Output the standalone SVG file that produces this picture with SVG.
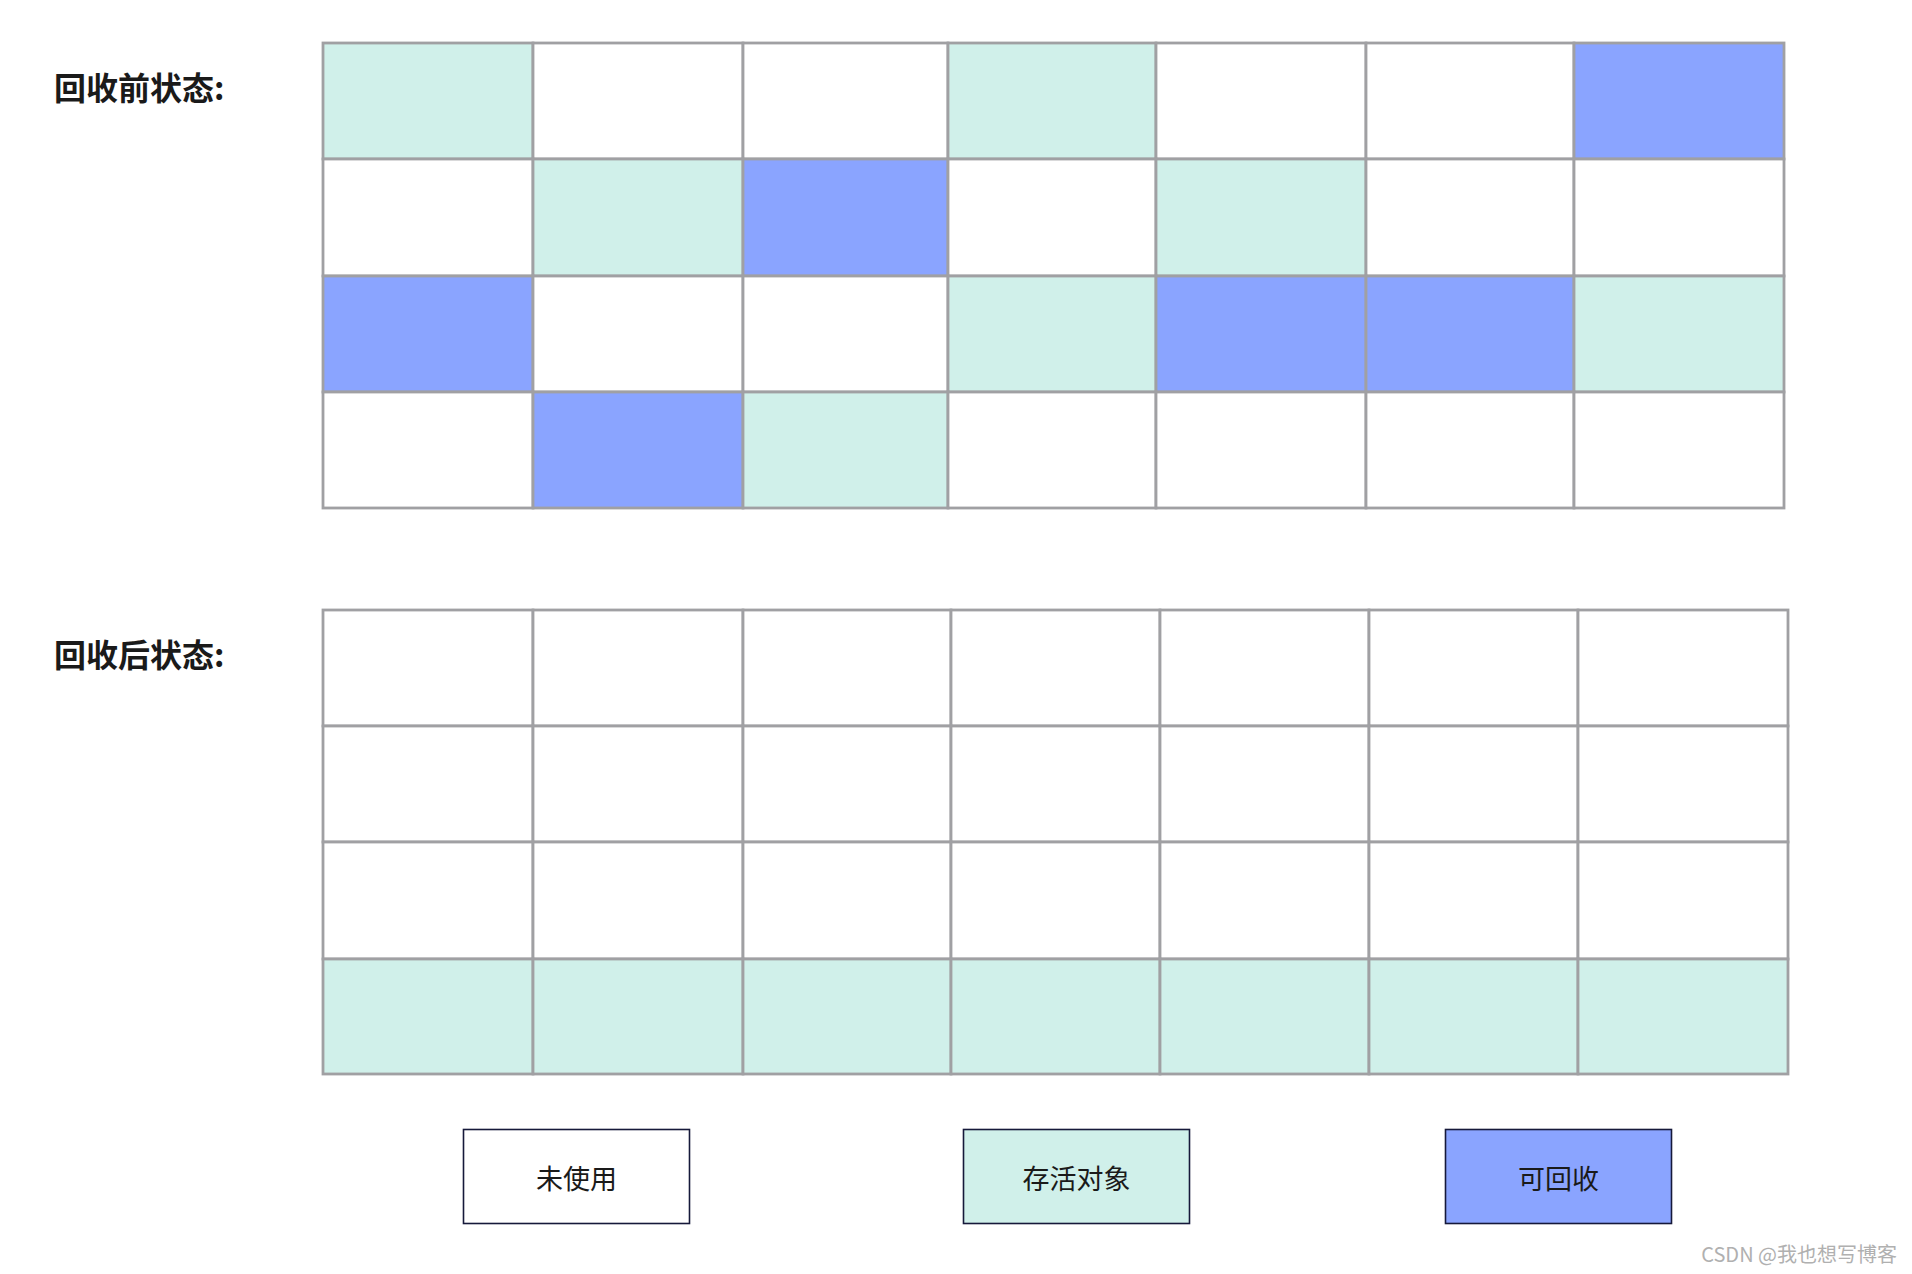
<svg xmlns="http://www.w3.org/2000/svg" width="1912" height="1274" viewBox="0 0 1912 1274">
<style>
.c{stroke:#a0a0a3;stroke-width:2.8}
.w{fill:#ffffff}
.t{fill:#d0f0ea}
.b{fill:#8aa4ff}
.title{font-family:"Noto Sans CJK SC","Noto Sans",sans-serif;font-weight:bold;font-size:32px;fill:#1a1a1a}
.lg{stroke:#16193a;stroke-width:1.6}
.lt{font-family:"Noto Sans CJK SC","Noto Sans",sans-serif;font-size:27px;fill:#1a1a1a;text-anchor:middle}
.wm{font-family:"Noto Sans CJK SC","Liberation Sans",sans-serif;font-size:20px;fill:#b0b0b0;text-anchor:end}
</style>
<rect width="1912" height="1274" fill="#ffffff"/>
<text class="title" x="54" y="100">回收前状态:</text>
<text class="title" x="54" y="667">回收后状态:</text>
<g id="before">
<rect class="c t" x="323" y="43" width="210" height="116"/>
<rect class="c w" x="533" y="43" width="210" height="116"/>
<rect class="c w" x="743" y="43" width="205" height="116"/>
<rect class="c t" x="948" y="43" width="208" height="116"/>
<rect class="c w" x="1156" y="43" width="210" height="116"/>
<rect class="c w" x="1366" y="43" width="208" height="116"/>
<rect class="c b" x="1574" y="43" width="210" height="116"/>
<rect class="c w" x="323" y="159" width="210" height="117"/>
<rect class="c t" x="533" y="159" width="210" height="117"/>
<rect class="c b" x="743" y="159" width="205" height="117"/>
<rect class="c w" x="948" y="159" width="208" height="117"/>
<rect class="c t" x="1156" y="159" width="210" height="117"/>
<rect class="c w" x="1366" y="159" width="208" height="117"/>
<rect class="c w" x="1574" y="159" width="210" height="117"/>
<rect class="c b" x="323" y="276" width="210" height="116"/>
<rect class="c w" x="533" y="276" width="210" height="116"/>
<rect class="c w" x="743" y="276" width="205" height="116"/>
<rect class="c t" x="948" y="276" width="208" height="116"/>
<rect class="c b" x="1156" y="276" width="210" height="116"/>
<rect class="c b" x="1366" y="276" width="208" height="116"/>
<rect class="c t" x="1574" y="276" width="210" height="116"/>
<rect class="c w" x="323" y="392" width="210" height="116"/>
<rect class="c b" x="533" y="392" width="210" height="116"/>
<rect class="c t" x="743" y="392" width="205" height="116"/>
<rect class="c w" x="948" y="392" width="208" height="116"/>
<rect class="c w" x="1156" y="392" width="210" height="116"/>
<rect class="c w" x="1366" y="392" width="208" height="116"/>
<rect class="c w" x="1574" y="392" width="210" height="116"/>
</g>
<g id="after">
<rect class="c w" x="323" y="610" width="210" height="116"/>
<rect class="c w" x="533" y="610" width="210" height="116"/>
<rect class="c w" x="743" y="610" width="208" height="116"/>
<rect class="c w" x="951" y="610" width="209" height="116"/>
<rect class="c w" x="1160" y="610" width="209" height="116"/>
<rect class="c w" x="1369" y="610" width="209" height="116"/>
<rect class="c w" x="1578" y="610" width="210" height="116"/>
<rect class="c w" x="323" y="726" width="210" height="116"/>
<rect class="c w" x="533" y="726" width="210" height="116"/>
<rect class="c w" x="743" y="726" width="208" height="116"/>
<rect class="c w" x="951" y="726" width="209" height="116"/>
<rect class="c w" x="1160" y="726" width="209" height="116"/>
<rect class="c w" x="1369" y="726" width="209" height="116"/>
<rect class="c w" x="1578" y="726" width="210" height="116"/>
<rect class="c w" x="323" y="842" width="210" height="117"/>
<rect class="c w" x="533" y="842" width="210" height="117"/>
<rect class="c w" x="743" y="842" width="208" height="117"/>
<rect class="c w" x="951" y="842" width="209" height="117"/>
<rect class="c w" x="1160" y="842" width="209" height="117"/>
<rect class="c w" x="1369" y="842" width="209" height="117"/>
<rect class="c w" x="1578" y="842" width="210" height="117"/>
<rect class="c t" x="323" y="959" width="210" height="115"/>
<rect class="c t" x="533" y="959" width="210" height="115"/>
<rect class="c t" x="743" y="959" width="208" height="115"/>
<rect class="c t" x="951" y="959" width="209" height="115"/>
<rect class="c t" x="1160" y="959" width="209" height="115"/>
<rect class="c t" x="1369" y="959" width="209" height="115"/>
<rect class="c t" x="1578" y="959" width="210" height="115"/>
</g>
<g id="legend-unused">
<rect class="lg w" x="463.5" y="1129.5" width="226" height="94"/>
<text class="lt" x="576.5" y="1189">未使用</text>
</g>
<g id="legend-alive">
<rect class="lg t" x="963.5" y="1129.5" width="226" height="94"/>
<text class="lt" x="1076.5" y="1189">存活对象</text>
</g>
<g id="legend-collectable">
<rect class="lg b" x="1445.5" y="1129.5" width="226" height="94"/>
<text class="lt" x="1558.5" y="1189">可回收</text>
</g>
<g id="connectors"></g>
<text class="wm" x="1897" y="1262">CSDN @我也想写博客</text>
</svg>
